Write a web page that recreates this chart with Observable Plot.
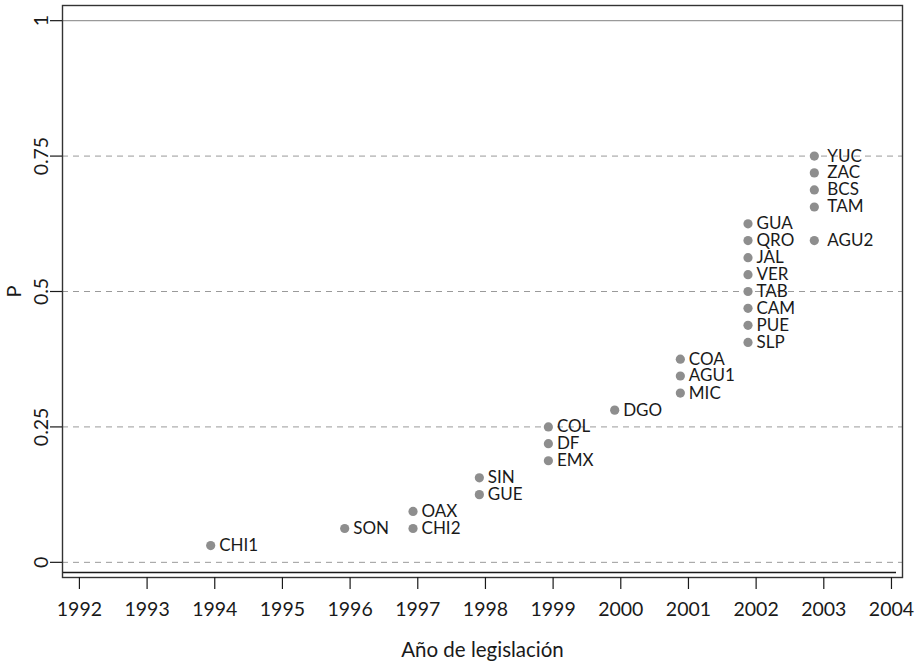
<!DOCTYPE html>
<html>
<head>
<meta charset="utf-8">
<script src="https://cdn.jsdelivr.net/npm/d3@7"></script>
<script src="https://cdn.jsdelivr.net/npm/@observablehq/plot@0.6"></script>
<style>
  html, body { margin: 0; padding: 0; background: #fff; }
  #chart svg { display: block; }
</style>
</head>
<body>
<div id="chart"></div>
<script>
// ---- data ----
const states = ["CHI1","SON","CHI2","OAX","GUE","SIN","EMX","DF","COL","DGO",
                "MIC","AGU1","COA","SLP","PUE","CAM","TAB","VER","JAL","QRO","GUA",
                "TAM","BCS","ZAC","YUC","AGU2"];
const legYears = [1993.94,1995.92,1996.93,1996.93,1997.91,1997.91,1998.93,1998.93,1998.93,1999.91,
                  2000.88,2000.88,2000.88,2001.88,2001.88,2001.88,2001.88,2001.88,2001.88,2001.88,2001.88,
                  2002.86,2002.86,2002.86,2002.86,2002.86];
const pValues = [0.031,0.0625,0.0625,0.094,0.125,0.156,0.1875,0.219,0.25,0.281,
                 0.3125,0.344,0.375,0.406,0.4375,0.469,0.5,0.531,0.5625,0.594,0.625,
                 0.656,0.6875,0.719,0.75,0.594];
const xTicks = [1992,1993,1994,1995,1996,1997,1998,1999,2000,2001,2002,2003,2004];
const yTicks = [0,0.25,0.5,0.75,1];
const yTickLabels = ["0","0.25","0.5","0.75","1"];
const dashedLines = [0,0.25,0.5,0.75];
const solidLines = [1];
const xLabel = "Año de legislación";
const yLabel = "P";

const data = states.map((s, i) => ({state: s, year: legYears[i], p: pValues[i]}));
const xDomain = [1991.75, 2004.163];
const yDomain = [-0.028, 1.028];

const font = "Lato, 'Open Sans', sans-serif";
const ink = "#1a1a1a";

const chart = Plot.plot({
  width: 918,
  height: 665,
  marginLeft: 62,
  marginRight: 16,
  marginTop: 5,
  marginBottom: 88,
  style: {fontFamily: font, background: "#fff", color: ink},
  x: {domain: xDomain, axis: null},
  y: {domain: yDomain, axis: null},
  marks: [
    Plot.ruleY(dashedLines, {stroke: "#9a9a9a", strokeWidth: 1, strokeDasharray: "6,5"}),
    Plot.ruleY(solidLines, {stroke: "#9a9a9a", strokeWidth: 1.2}),
    Plot.ruleY([yDomain[0]], {dy: -5, insetRight: 6, stroke: ink, strokeWidth: 1.5}),
    Plot.frame({stroke: "#333", strokeWidth: 1.4}),
    Plot.axisX(xTicks, {tickSize: 12, tickPadding: 13, fontSize: 19.5, tickFormat: d => String(d),
                        label: null, stroke: ink, strokeWidth: 1.2, fill: ink}),
    Plot.axisY(yTicks, {tickSize: 12, tickFormat: () => "", label: null, stroke: ink, strokeWidth: 1.2}),
    Plot.text(yTicks, {y: d => d, text: (d, i) => yTickLabels[i], frameAnchor: "left", dx: -21,
                       rotate: -90, textAnchor: "middle", lineAnchor: "middle", fontSize: 19.5, fill: ink}),
    Plot.text([yLabel], {frameAnchor: "left", dx: -48, rotate: -90, textAnchor: "middle",
                         lineAnchor: "middle", fontSize: 20, fill: ink}),
    Plot.text([xLabel], {frameAnchor: "bottom", dy: 73, textAnchor: "middle",
                         lineAnchor: "middle", fontSize: 20.5, fill: ink}),
    Plot.dot(data, {x: "year", y: "p", r: 4.6, fill: "#8e8e8e", stroke: "none"}),
    Plot.text(data.filter(d => d.year < 2002.5), {x: "year", y: "p", text: "state", dx: 8.5,
                       textAnchor: "start", lineAnchor: "middle", fontSize: 17, fill: ink}),
    Plot.text(data.filter(d => d.year >= 2002.5), {x: "year", y: "p", text: "state", dx: 13,
                       textAnchor: "start", lineAnchor: "middle", fontSize: 17, fill: ink})
  ]
});
document.getElementById("chart").appendChild(chart);
</script>
</body>
</html>
